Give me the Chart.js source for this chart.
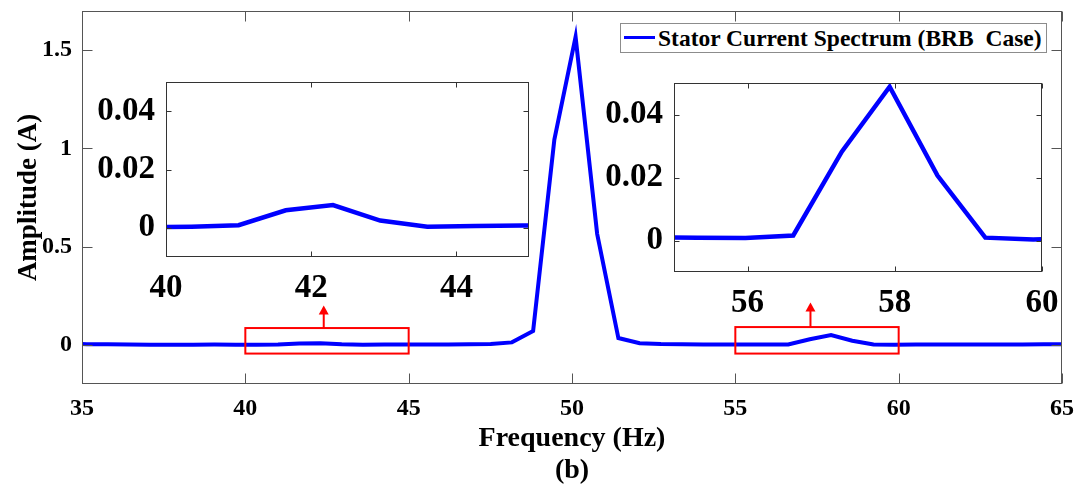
<!DOCTYPE html>
<html><head><meta charset="utf-8">
<script src="https://cdn.jsdelivr.net/npm/chart.js@4"></script>
<style>
html,body{margin:0;padding:0;background:#fff;}
#wrap{position:relative;width:1081px;height:494px;overflow:hidden;background:#fff;}
canvas{position:absolute;}
#legend{position:absolute;left:620px;top:23px;width:427px;height:30px;border:1px solid #8c8c8c;background:#fff;box-sizing:border-box;font:bold 23.5px "Liberation Serif","Times New Roman",serif;color:#000;white-space:pre;}
#legend .ln{position:absolute;left:3px;top:12px;width:31px;height:3px;background:#0000ff;}
#legend .tx{position:absolute;left:37px;top:0;line-height:28px;}
</style></head>
<body><div id="wrap">
<canvas id="main" width="1081" height="494" style="left:0;top:0"></canvas>
<canvas id="insL" width="470" height="245" style="left:80px;top:70px"></canvas>
<canvas id="insR" width="496" height="260" style="left:585px;top:70px"></canvas>
<div id="legend"><span class="ln"></span><span class="tx">Stator Current Spectrum (BRB  Case)</span></div>
</div>
<script>
// ---- data ----
const freq = [34.49, 35.14, 35.79, 36.44, 37.09, 37.75, 38.40, 39.05, 39.70, 40.35,
  41.00, 41.65, 42.30, 42.95, 43.60, 44.26, 44.91, 45.56, 46.21, 46.86,
  47.51, 48.16, 48.81, 49.46, 50.11, 50.77, 51.42, 52.07, 52.72, 53.37,
  54.02, 54.67, 55.32, 55.97, 56.62, 57.28, 57.93, 58.58, 59.23, 59.88,
  60.53, 61.18, 61.83, 62.48, 63.13, 63.79, 64.44, 65.09];
const amplitude = [0.004, 0.003, 0.002, 0.001, 0.0005, 0.0004, 0.0005, 0.0006, 0.0002, 0.0004,
  0.0009, 0.0060, 0.0078, 0.0025, 0.0004, 0.0006, 0.0008, 0.0010, 0.0012, 0.0020,
  0.0040, 0.0120, 0.0700, 1.045, 1.568, 0.565, 0.034, 0.0080, 0.0040, 0.0025,
  0.0015, 0.0010, 0.0009, 0.0008, 0.0016, 0.0282, 0.0488, 0.0206, 0.0009, 0.0003,
  0.0010, 0.0015, 0.0008, 0.0006, 0.0006, 0.0010, 0.0020, 0.0030];
const seriesLabel = 'Stator Current Spectrum (BRB  Case)';
const mainXTicks = [35, 40, 45, 50, 55, 60, 65];
const mainYTicks = [0, 0.5, 1, 1.5];
const mainYLabels = ['0', '0.5', '1', '1.5'];
const insetLeftXTicks = [40, 42, 44];
const insetRightXTicks = [56, 58, 60];
const insetYTicks = [0, 0.02, 0.04];
const insetYLabels = ['0', '0.02', '0.04'];
// zoom boxes (data units) with arrows
const zoomBoxes = [
  {x0: 40, x1: 45, y0: -0.045, y1: 0.085, ax: 42.4, tip: 0.2},
  {x0: 55, x1: 60, y0: -0.045, y1: 0.09, ax: 57.3, tip: 0.215}
];

const points = freq.map((f, i) => ({x: f, y: amplitude[i]}));
const FONT = '"Liberation Serif","Times New Roman",serif';

const framePlugin = {
  id: 'frame',
  beforeDraw(chart, args, o) {
    const a = chart.chartArea, c = chart.ctx;
    if (o.fill) { c.save(); c.fillStyle = o.fill; c.fillRect(a.left, a.top, a.right - a.left, a.bottom - a.top); c.restore(); }
  },
  afterDatasetsDraw(chart, args, o) {
    const a = chart.chartArea, c = chart.ctx, L = o.tick;
    const xs = chart.scales.x, ys = chart.scales.y;
    c.save();
    c.strokeStyle = o.color; c.lineWidth = 1;
    const l = Math.round(a.left) + 0.5, r = Math.round(a.right) - 0.5, t = Math.round(a.top) + 0.5, b = Math.round(a.bottom) - 0.5;
    c.strokeRect(l, t, r - l, b - t);
    c.beginPath();
    xs.ticks.forEach(tk => {
      const px = Math.round(xs.getPixelForValue(tk.value)) + 0.5;
      c.moveTo(px, b); c.lineTo(px, b - L);
      c.moveTo(px, t); c.lineTo(px, t + L);
    });
    ys.ticks.forEach(tk => {
      const py = Math.round(ys.getPixelForValue(tk.value)) + 0.5;
      c.moveTo(l, py); c.lineTo(l + L, py);
      c.moveTo(r, py); c.lineTo(r - L, py);
    });
    c.stroke();
    c.restore();
  }
};

const zoomPlugin = {
  id: 'zoomBoxes',
  afterDatasetsDraw(chart) {
    const xs = chart.scales.x, ys = chart.scales.y, c = chart.ctx;
    c.save();
    c.strokeStyle = '#ff0000'; c.fillStyle = '#ff0000'; c.lineWidth = 2;
    zoomBoxes.forEach(bx => {
      const x0 = xs.getPixelForValue(bx.x0), x1 = xs.getPixelForValue(bx.x1);
      const y0 = ys.getPixelForValue(bx.y0), y1 = ys.getPixelForValue(bx.y1);
      c.strokeRect(x0, y1, x1 - x0, y0 - y1);
      const ax = xs.getPixelForValue(bx.ax), tip = ys.getPixelForValue(bx.tip);
      c.beginPath(); c.moveTo(ax, y1); c.lineTo(ax, tip + 7); c.stroke();
      c.beginPath(); c.moveTo(ax, tip); c.lineTo(ax - 5, tip + 9); c.lineTo(ax + 5, tip + 9); c.closePath(); c.fill();
    });
    c.restore();
  }
};

function makeChart(id, cfg) {
  return new Chart(document.getElementById(id), {
    type: 'line',
    data: {datasets: [{label: seriesLabel, data: points, borderColor: '#0000ff', borderWidth: cfg.lw,
      pointRadius: 0, tension: 0, fill: false, clip: 0, borderJoinStyle: 'miter'}]},
    options: {
      responsive: false, animation: false, devicePixelRatio: 1,
      layout: {padding: cfg.pad},
      plugins: {legend: {display: false}, tooltip: {enabled: false},
        frame: {color: cfg.frameColor, tick: cfg.tickLen, fill: '#ffffff'}},
      scales: {
        x: {type: 'linear', min: cfg.xmin, max: cfg.xmax,
          afterBuildTicks: s => { s.ticks = cfg.xticks.map(v => ({value: v})); },
          afterFit: s => { s.height = cfg.xh; s.paddingLeft = 0; s.paddingRight = 0; s.paddingTop = 0; s.paddingBottom = 0; },
          grid: {display: false, drawTicks: false}, border: {display: false},
          ticks: {color: '#000', font: {family: FONT, size: cfg.fs, weight: 'bold'}, padding: cfg.xpad,
            maxRotation: 0, autoSkip: false, callback: (v, i) => String(cfg.xticks[i])},
          title: cfg.xtitle || {display: false}},
        y: {type: 'linear', min: cfg.ymin, max: cfg.ymax,
          afterBuildTicks: s => { s.ticks = cfg.yticks.map(v => ({value: v})); },
          afterFit: s => { s.width = cfg.yw; s.paddingLeft = 0; s.paddingRight = 0; s.paddingTop = 0; s.paddingBottom = 0; },
          grid: {display: false, drawTicks: false}, border: {display: false},
          ticks: {color: '#000', font: {family: FONT, size: cfg.fs, weight: 'bold'}, padding: cfg.ypad,
            autoSkip: false, callback: (v, i) => cfg.ylabels[i]},
          title: cfg.ytitle || {display: false}}
      }
    },
    plugins: cfg.plugins
  });
}

makeChart('main', {
  lw: 4, pad: {left: 0, top: 11, right: 19, bottom: 0},
  xmin: 35, xmax: 65, xticks: mainXTicks, ymin: -0.2, ymax: 1.7, yticks: mainYTicks, ylabels: mainYLabels,
  xh: 110, yw: 82, fs: 24, xpad: 10, ypad: 10, frameColor: '#555555', tickLen: 10,
  xtitle: {display: true, text: ['Frequency (Hz)', '(b)'], color: '#000',
    font: {family: FONT, size: 28, weight: 'bold', lineHeight: 1.15}, padding: {top: 0, bottom: 7}},
  ytitle: {display: true, text: 'Amplitude (A)', color: '#000',
    font: {family: FONT, size: 27, weight: 'bold', lineHeight: 1.2}, padding: {top: 13, bottom: 0}},
  plugins: [framePlugin, zoomPlugin]
});

makeChart('insL', {
  lw: 4.5, pad: {left: 0, top: 12, right: 21, bottom: 0},
  xmin: 40, xmax: 45, xticks: insetLeftXTicks, ymin: -0.01, ymax: 0.05, yticks: insetYTicks, ylabels: insetYLabels,
  xh: 58, yw: 86, fs: 33, xpad: 12, ypad: 11, frameColor: '#333333', tickLen: 5,
  plugins: [framePlugin]
});

makeChart('insR', {
  lw: 4.5, pad: {left: 0, top: 13, right: 39, bottom: 0},
  xmin: 55, xmax: 60, xticks: insetRightXTicks, ymin: -0.01, ymax: 0.05, yticks: insetYTicks, ylabels: insetYLabels,
  xh: 58, yw: 89, fs: 33, xpad: 12, ypad: 11, frameColor: '#333333', tickLen: 5,
  plugins: [framePlugin]
});
</script>
</body></html>
